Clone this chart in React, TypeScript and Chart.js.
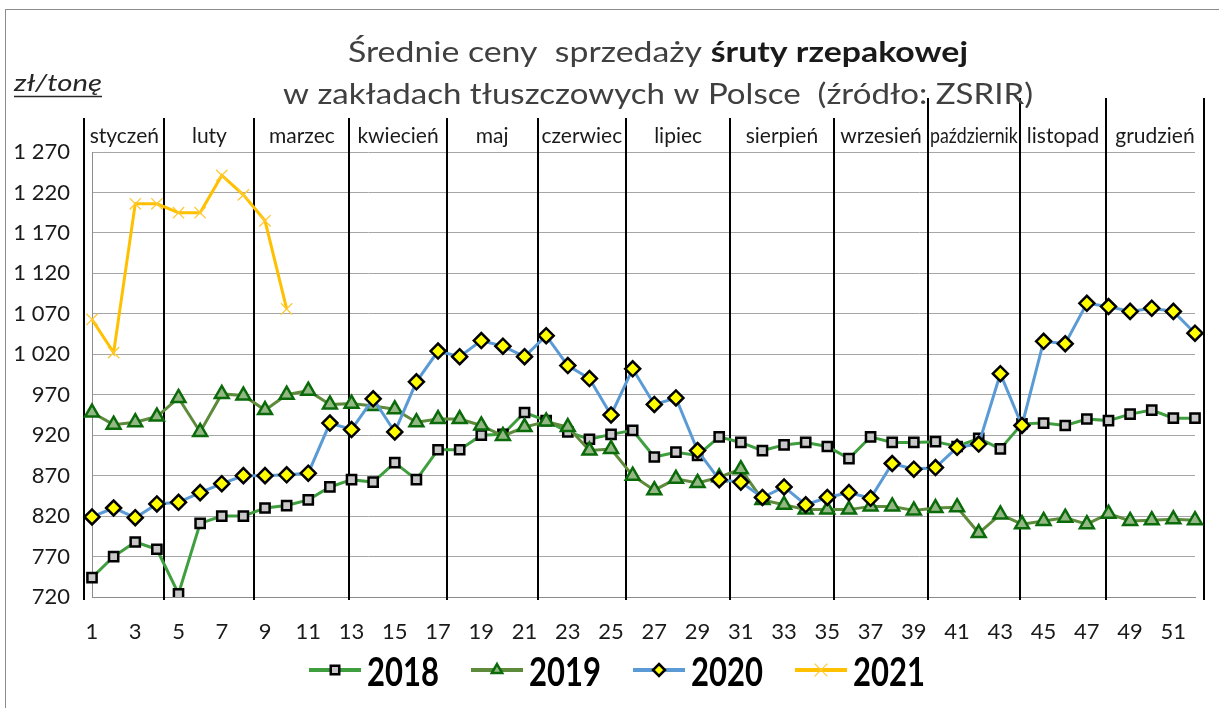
import React, { useEffect, useRef } from 'react';
import { Chart, registerables } from 'chart.js';

Chart.register(...registerables);

const weeks = ['1','2','3','4','5','6','7','8','9','10','11','12','13','14','15','16','17','18','19','20','21','22','23','24','25','26','27','28','29','30','31','32','33','34','35','36','37','38','39','40','41','42','43','44','45','46','47','48','49','50','51','52'];

const s2018 = [744, 770, 788, 779, 724, 811, 820, 820, 830, 833, 840, 856, 865, 862, 886, 865, 902, 902, 920, 921, 948, 938, 924, 915, 921, 926, 893, 899, 895, 918, 911, 901, 908, 911, 906, 891, 918, 911, 911, 912, 906, 916, 903, 934, 935, 932, 940, 938, 946, 951, 941, 941];
const s2019 = [948, 933, 936, 943, 966, 924, 971, 969, 951, 970, 975, 958, 959, 956, 952, 936, 940, 940, 932, 919, 930, 937, 930, 901, 903, 870, 852, 866, 861, 868, 878, 840, 834, 828, 828, 828, 832, 832, 827, 830, 831, 799, 822, 810, 814, 818, 810, 823, 814, 815, 816, 815];
const s2020 = [819, 830, 818, 835, 837, 849, 860, 870, 870, 871, 873, 935, 927, 965, 924, 986, 1024, 1017, 1037, 1030, 1017, 1043, 1006, 990, 945, 1002, 958, 966, 901, 865, 862, 843, 856, 834, 843, 849, 842, 885, 878, 880, 905, 909, 996, 932, 1036, 1033, 1083, 1079, 1073, 1077, 1073, 1046];
const s2021 = [1063, 1022, 1206, 1206, 1195, 1195, 1241, 1217, 1185, 1076];

const seriesLabels = ['2018', '2019', '2020', '2021'];

const monthNames = ['styczeń', 'luty', 'marzec', 'kwiecień', 'maj', 'czerwiec', 'lipiec', 'sierpień', 'wrzesień', 'październik', 'listopad', 'grudzień'];
// month boundaries expressed in week numbers
const monthBoundaries = [0.64, 4.35, 8.51, 12.9, 17.4, 21.6, 25.7, 30.5, 35.3, 39.66, 43.9, 47.9, 52.4];

const yMin = 720;
const yMax = 1270;
const yStep = 50;

const titleLine1a = 'Średnie ceny  sprzedaży ';
const titleLine1b = 'śruty rzepakowej';
const titleLine2 = 'w zakładach tłuszczowych w Polsce  (źródło: ZSRIR)';
const unitLabel = 'zł/tonę';

const FONT = 'Lato, "Open Sans", sans-serif';

const styles = [
  { line: '#3f9f3f', marker: 'rect', fill: '#c8c8c8', stroke: '#000000' },
  { line: '#5e8a3c', marker: 'triangle', fill: '#93b883', stroke: '#0b6b0b' },
  { line: '#5b9bd5', marker: 'rectRot', fill: '#ffff00', stroke: '#000000' },
  { line: '#ffc000', marker: 'crossRot', fill: '#ffc000', stroke: '#ffc933' },
];

function fmt(v: number): string {
  return String(v).replace(/\B(?=(\d{3})+(?!\d))/g, ' ');
}

function drawMarker(ctx: CanvasRenderingContext2D, kind: string, x: number, y: number, r: number, fill: string, stroke: string, bw: number) {
  ctx.save();
  ctx.beginPath();
  if (kind === 'rect') {
    const s = r * Math.SQRT1_2;
    ctx.rect(x - s, y - s, 2 * s, 2 * s);
  } else if (kind === 'rectRot') {
    ctx.moveTo(x, y - r); ctx.lineTo(x + r, y); ctx.lineTo(x, y + r); ctx.lineTo(x - r, y); ctx.closePath();
  } else if (kind === 'triangle') {
    ctx.moveTo(x, y - r); ctx.lineTo(x + r * 0.866, y + r * 0.5); ctx.lineTo(x - r * 0.866, y + r * 0.5); ctx.closePath();
  } else {
    const d = r * Math.SQRT1_2;
    ctx.moveTo(x - d, y - d); ctx.lineTo(x + d, y + d); ctx.moveTo(x + d, y - d); ctx.lineTo(x - d, y + d);
  }
  if (kind !== 'crossRot') { ctx.fillStyle = fill; ctx.fill(); }
  ctx.strokeStyle = stroke; ctx.lineWidth = bw; ctx.stroke();
  ctx.restore();
}

const decorPlugin = {
  id: 'decor',
  beforeDatasetsDraw(chart: any) {
    const { ctx, scales } = chart;
    const x = scales.x;
    ctx.save();
    ctx.strokeStyle = '#000';
    ctx.lineWidth = 2;
    monthBoundaries.forEach((w, i) => {
      const px = Math.round(x.getPixelForValue(w - 1));
      const top = i >= 9 ? 98 : 118;
      ctx.beginPath();
      ctx.moveTo(px, top);
      ctx.lineTo(px, 600);
      ctx.stroke();
    });
    ctx.restore();
  },
  afterDraw(chart: any) {
    const { ctx, scales } = chart;
    const x = scales.x;
    ctx.save();
    // month labels
    ctx.fillStyle = '#1a1a1a';
    ctx.font = `21px ${FONT}`;
    ctx.textAlign = 'center';
    ctx.textBaseline = 'alphabetic';
    monthNames.forEach((m, i) => {
      const a = x.getPixelForValue(monthBoundaries[i] - 1);
      const b = x.getPixelForValue(monthBoundaries[i + 1] - 1);
      const mw = ctx.measureText(m).width;
      const avail = b - a - 4;
      ctx.save();
      ctx.translate((a + b) / 2, 143);
      if (mw > avail) ctx.scale(avail / mw, 1);
      ctx.fillText(m, 0, 0);
      ctx.restore();
    });

    // title line 1 (mixed weight)
    ctx.textAlign = 'left';
    const f1a = `29px ${FONT}`;
    const f1b = `bold 29px ${FONT}`;
    ctx.font = f1a;
    const wA = ctx.measureText(titleLine1a).width;
    ctx.font = f1b;
    const wB = ctx.measureText(titleLine1b).width;
    const sx1 = 620 / (wA + wB);
    ctx.save();
    ctx.translate(348, 62);
    ctx.scale(sx1, 1);
    ctx.font = f1a;
    ctx.fillStyle = '#404040';
    ctx.fillText(titleLine1a, 0, 0);
    ctx.font = f1b;
    ctx.fillStyle = '#1a1a1a';
    ctx.fillText(titleLine1b, wA, 0);
    ctx.restore();

    // title line 2
    const f2 = `29px ${FONT}`;
    ctx.font = f2;
    const sx2 = 750 / ctx.measureText(titleLine2).width;
    ctx.save();
    ctx.translate(283, 104);
    ctx.scale(sx2, 1);
    ctx.font = f2;
    ctx.fillStyle = '#404040';
    ctx.fillText(titleLine2, 0, 0);
    ctx.restore();

    // unit label
    const uf = `italic 24px ${FONT}`;
    ctx.font = uf;
    const uw = ctx.measureText(unitLabel).width;
    const usx = 88 / uw;
    ctx.save();
    ctx.translate(14, 91);
    ctx.scale(usx, 1);
    ctx.font = uf;
    ctx.fillStyle = '#262626';
    ctx.fillText(unitLabel, 0, 0);
    ctx.restore();
    ctx.strokeStyle = '#262626';
    ctx.lineWidth = 1.5;
    ctx.beginPath();
    ctx.moveTo(14, 96.5);
    ctx.lineTo(14 + 88, 96.5);
    ctx.stroke();

    // legend
    const lf = `bold 40px ${FONT}`;
    ctx.font = lf;
    let cx = 309;
    const ly = 670;
    seriesLabels.forEach((lab, i) => {
      const st = styles[i];
      ctx.strokeStyle = st.line;
      ctx.lineWidth = 4;
      ctx.beginPath();
      ctx.moveTo(cx, ly);
      ctx.lineTo(cx + 52, ly);
      ctx.stroke();
      drawMarker(ctx, st.marker, cx + 26, ly, i === 3 ? 9 : 6, st.fill, st.stroke, i === 3 ? 1.2 : 2.5);
      cx += 58;
      ctx.font = lf;
      const tw = ctx.measureText(lab).width;
      const sx = 72 / tw;
      ctx.save();
      ctx.translate(cx, 686);
      ctx.scale(sx, 1);
      ctx.font = lf;
      ctx.fillStyle = '#000';
      ctx.fillText(lab, 0, 0);
      ctx.restore();
      cx += 72 + 32;
    });
    ctx.restore();
  },
};

export default function App() {
  const ref = useRef<HTMLCanvasElement | null>(null);

  useEffect(() => {
    if (!ref.current) return;
    const allSeries = [s2018, s2019, s2020, s2021];
    const chart = new Chart(ref.current, {
      type: 'line',
      data: {
        labels: weeks,
        datasets: allSeries.map((d, i) => ({
          label: seriesLabels[i],
          data: d,
          borderColor: styles[i].line,
          backgroundColor: styles[i].fill,
          borderWidth: 3,
          tension: 0,
          pointStyle: styles[i].marker as any,
          pointRadius: i === 0 ? 6.5 : i === 1 ? 8 : i === 2 ? 7.5 : 8,
          pointBorderWidth: i === 3 ? 1.3 : 2.5,
          pointBorderColor: styles[i].stroke,
          pointBackgroundColor: styles[i].fill,
          order: 4 - i,
          spanGaps: false,
        })),
      },
      options: {
        animation: false,
        responsive: true,
        maintainAspectRatio: false,
        layout: { padding: { top: 152, left: 0, right: 24, bottom: 0 } },
        plugins: {
          legend: { display: false },
          title: { display: false },
          tooltip: { enabled: false },
        },
        scales: {
          x: {
            type: 'category',
            offset: false,
            grid: { display: false, drawTicks: false },
            border: { display: true, color: '#8c8c8c', width: 1 },
            ticks: {
              autoSkip: false,
              maxRotation: 0,
              padding: 22,
              color: '#1a1a1a',
              font: { family: FONT, size: 22 },
              callback: (_v: any, i: number) => (i % 2 === 0 ? weeks[i] : ''),
            },
            afterFit: (s: any) => { s.height = 111; },
          },
          y: {
            min: yMin,
            max: yMax,
            grid: { color: '#a6a6a6', drawTicks: false, lineWidth: 1 },
            border: { display: true, color: '#8c8c8c', width: 1 },
            ticks: {
              stepSize: yStep,
              padding: 22,
              color: '#1a1a1a',
              font: { family: FONT, size: 22 },
              callback: (v: any) => fmt(Number(v)),
            },
            afterFit: (s: any) => { s.width = 92; },
          },
        },
      },
      plugins: [decorPlugin],
    });
    return () => chart.destroy();
  }, []);

  return (
    <div style={{ position: 'fixed', left: 0, top: 0, width: 1219, height: 708, overflow: 'hidden', background: '#fff' }}>
      <div style={{ position: 'absolute', left: 5, top: 9, width: 1300, height: 800, border: '1px solid #8c8c8c' }} />
      <div style={{ position: 'absolute', left: 0, top: 0, width: 1219, height: 708 }}>
        <canvas ref={ref} />
      </div>
    </div>
  );
}
